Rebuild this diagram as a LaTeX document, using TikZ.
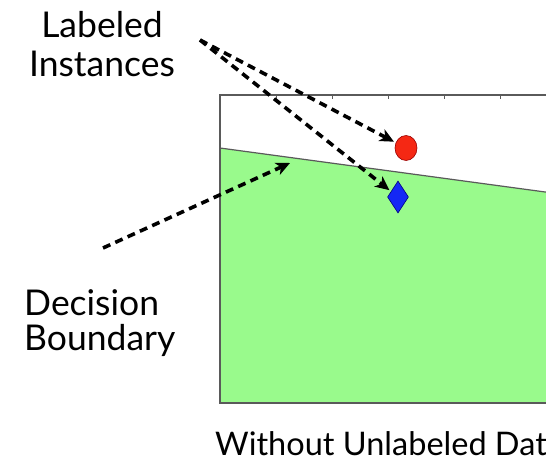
\documentclass[tikz,border=0pt]{standalone}
\usepackage{fontspec}
\setmainfont{Lato}
\usetikzlibrary{shapes.geometric,arrows.meta}
\definecolor{regiongreen}{RGB}{153,250,140}
\definecolor{framegray}{RGB}{90,90,90}
\definecolor{ptred}{RGB}{245,40,20}
\definecolor{ptblue}{RGB}{20,40,245}
\tikzset{
  lbl/.style={inner sep=0pt, font=\fontsize{35.5}{39}\selectfont},
  pointer/.style={dashed, dash pattern=on 8pt off 5.5pt, line width=3.6pt,
    -{Stealth[length=14pt,width=13pt,inset=4pt]}, shorten >=2pt},
}
\begin{document}
\begin{tikzpicture}[x=1pt,y=-1pt]
\useasboundingbox (0,0) rectangle (546,468);
\clip (0,0) rectangle (546,468);
% plot frame and region
\fill[regiongreen] (220,148) -- (560,194) -- (560,403) -- (220,403) -- cycle;
\draw[framegray, line width=1.2pt] (220,148) -- (560,194);
\draw[framegray, line width=1.4pt] (560,95) -- (220,95) -- (220,403) -- (560,403);
\foreach \tx in {276,332,388,444,500} \draw[framegray, line width=0.6pt] (\tx,95) -- (\tx,99);
% points
\node[ellipse, fill=ptred, draw=red!60!black, line width=0.6pt, minimum width=22pt, minimum height=25pt, inner sep=0pt] (circ) at (406,148) {};
\node[diamond, fill=ptblue, draw=blue!50!black, line width=0.6pt, minimum width=21pt, minimum height=32pt, inner sep=0pt] (diam) at (398,197) {};
% labels
\node[lbl, align=center, anchor=base] (labinst) at (102,77) {Labeled\\Instances};
\node[lbl, align=left, anchor=base west, font=\fontsize{35.5}{35}\selectfont] (decbound) at (24,350) {Decision\\Boundary};
\node[inner sep=0pt, anchor=base west, font=\fontsize{32.5}{38}\selectfont] (caption) at (215,455) {Without Unlabeled Data};
% connectors
\coordinate (src) at (200,40);
\coordinate (bsrc) at (103,248);
\coordinate (btgt) at (290,163);
\draw[pointer] (src) -- (circ);
\draw[pointer] (src) -- (diam);
\draw[pointer, shorten >=0pt] (bsrc) -- (btgt);
\end{tikzpicture}
\end{document}
